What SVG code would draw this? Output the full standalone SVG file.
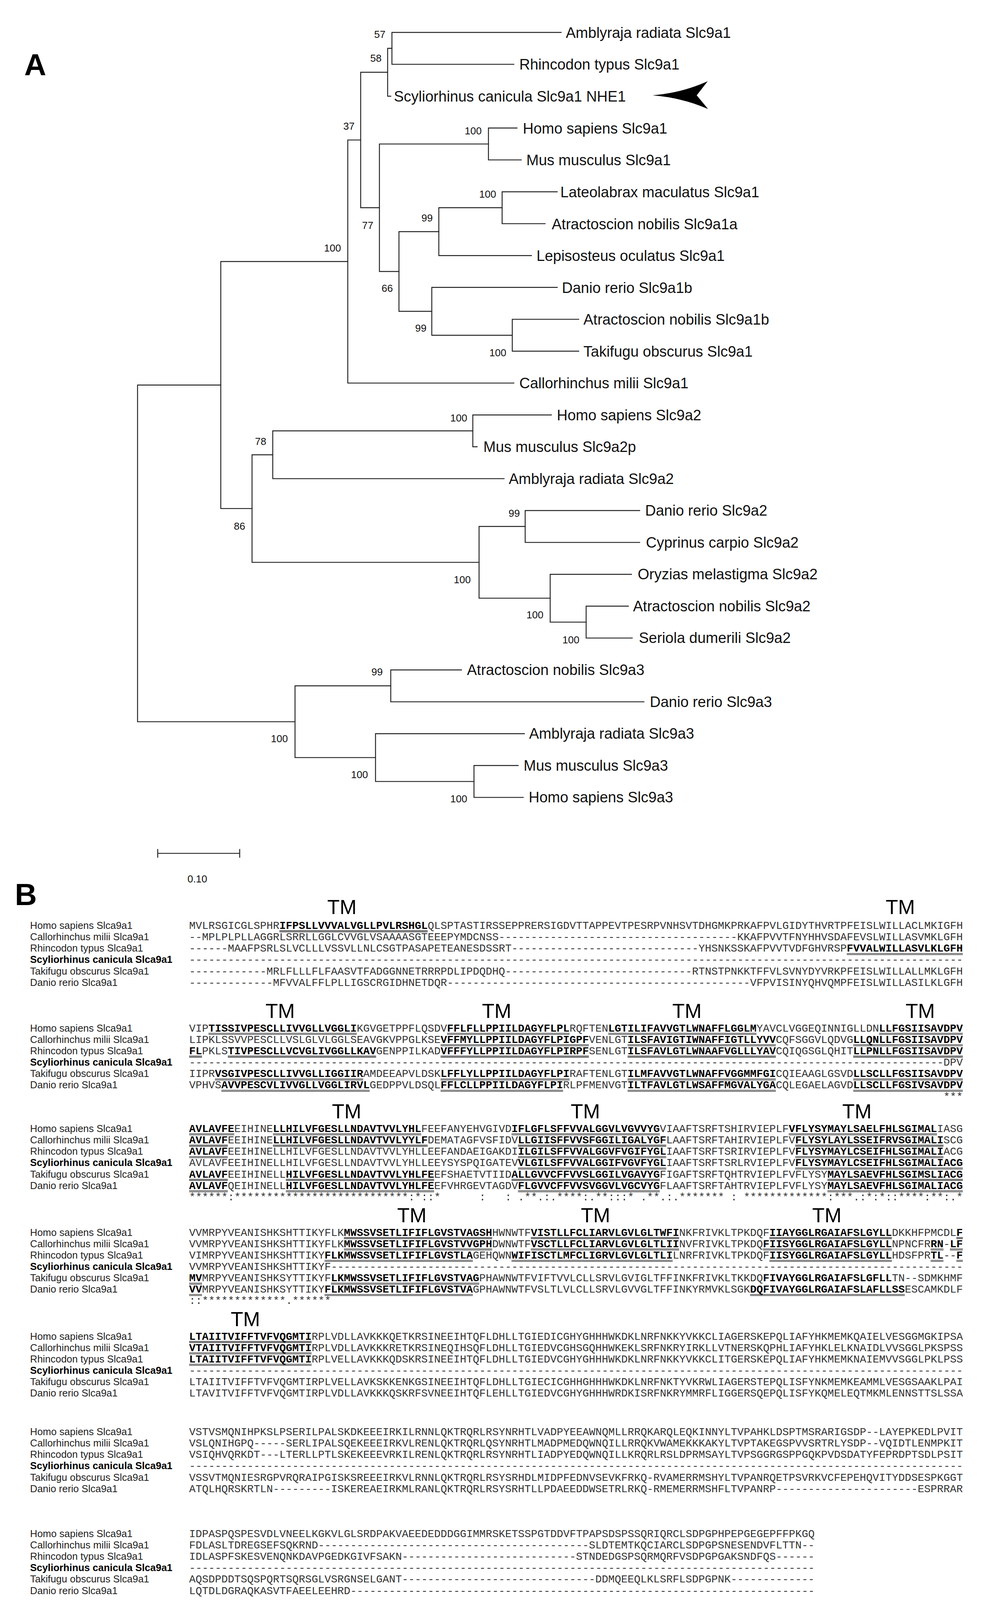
<svg xmlns="http://www.w3.org/2000/svg" width="2531" height="4302" viewBox="0 0 2531 4302">
<style>
.bg{fill:#fff}
.edge{stroke:#222;stroke-width:2.4;fill:none;stroke-linecap:square}
.lf{font-family:"Liberation Sans",Arial,sans-serif;font-size:38px;fill:#111}
.bs{font-family:"Liberation Sans",Arial,sans-serif;font-size:26px;fill:#111;text-anchor:middle}
.pl{font-family:"Liberation Sans",Arial,sans-serif;font-weight:bold;font-size:78px;fill:#000}
.nm{font-family:"Liberation Sans",Arial,sans-serif;font-size:25.5px;fill:#222}
.nmb{font-family:"Liberation Sans",Arial,sans-serif;font-size:25.5px;font-weight:bold;fill:#000}
.sq{font-family:"Liberation Mono","Courier New",monospace;font-size:27.5px;fill:#333}
.b{font-weight:bold;fill:#000}
.tm{font-family:"Liberation Sans",Arial,sans-serif;font-size:52px;fill:#000;text-anchor:middle}
.ul{stroke:#000;stroke-width:1.3;fill:none}
</style>
<rect class="bg" x="0" y="0" width="2531" height="4302"/>

<text class="pl" x="62" y="193">A</text>

<g id="connectors">
<path class="edge" d="M565,985.7 H352 V1847.6 H755"/>
<path class="edge" d="M890,669.5 H565 V1301.9 H645"/>
<path class="edge" d="M923,358.4 H890 V980.6 H1315"/>
<path class="edge" d="M992,185 H923 V531.8 H971"/>
<path class="edge" d="M1003,123.8 H992 V246.2 H1000"/>
<path class="edge" d="M1436,83 H1003 V164.6 H1315"/>
<path class="edge" d="M1250,368.6 H971 V695 H1021"/>
<path class="edge" d="M1323,327.8 H1250 V409.4 H1334"/>
<path class="edge" d="M1123,593 H1021 V797 H1105"/>
<path class="edge" d="M1285,531.8 H1123 V654.2 H1360"/>
<path class="edge" d="M1426,491 H1285 V572.6 H1395"/>
<path class="edge" d="M1426,735.8 H1105 V858.2 H1311"/>
<path class="edge" d="M1481,817.4 H1311 V899 H1481"/>
<path class="edge" d="M698,1164.2 H645 V1439.6 H1226"/>
<path class="edge" d="M1210,1103 H698 V1225.4 H1290"/>
<path class="edge" d="M1411,1062.2 H1210 V1143.8 H1221"/>
<path class="edge" d="M1344,1347.8 H1226 V1531.4 H1408"/>
<path class="edge" d="M1637,1307 H1344 V1388.6 H1637"/>
<path class="edge" d="M1616,1470.2 H1408 V1592.6 H1500"/>
<path class="edge" d="M1608,1551.8 H1500 V1633.4 H1618"/>
<path class="edge" d="M1000,1755.8 H755 V1939.4 H961"/>
<path class="edge" d="M1181,1715 H1000 V1796.6 H1648"/>
<path class="edge" d="M1342,1878.2 H961 V2000.6 H1213"/>
<path class="edge" d="M1326,1959.8 H1213 V2041.4 H1339"/>
</g>

<g id="leaves">
<g id="leaf-amblyraja-slc9a1"><text class="lf" x="1448" y="97">Amblyraja radiata Slc9a1</text></g>
<g id="leaf-rhincodon-slc9a1"><text class="lf" x="1329" y="178">Rhincodon typus Slc9a1</text></g>
<g id="leaf-scyliorhinus-slc9a1"><text class="lf" x="1008" y="259.5">Scyliorhinus canicula Slc9a1 NHE1</text>
<path d="M1670,244 Q1745,238 1811,208 L1783,244 L1812,279 Q1745,250 1670,244 Z" fill="#000"/></g>
<g id="leaf-homo-slc9a1"><text class="lf" x="1338" y="341.5">Homo sapiens Slc9a1</text></g>
<g id="leaf-mus-slc9a1"><text class="lf" x="1347" y="423">Mus musculus Slc9a1</text></g>
<g id="leaf-lateolabrax-slc9a1"><text class="lf" x="1434" y="505">Lateolabrax maculatus Slc9a1</text></g>
<g id="leaf-atractoscion-slc9a1a"><text class="lf" x="1412" y="586.5">Atractoscion nobilis Slc9a1a</text></g>
<g id="leaf-lepisosteus-slc9a1"><text class="lf" x="1373" y="668">Lepisosteus oculatus Slc9a1</text></g>
<g id="leaf-danio-slc9a1b"><text class="lf" x="1438" y="749.5">Danio rerio Slc9a1b</text></g>
<g id="leaf-atractoscion-slc9a1b"><text class="lf" x="1493" y="831">Atractoscion nobilis Slc9a1b</text></g>
<g id="leaf-takifugu-slc9a1"><text class="lf" x="1493" y="912.5">Takifugu obscurus Slc9a1</text></g>
<g id="leaf-callorhinchus-slc9a1"><text class="lf" x="1329" y="994">Callorhinchus milii Slc9a1</text></g>
<g id="leaf-homo-slc9a2"><text class="lf" x="1425" y="1075.5">Homo sapiens Slc9a2</text></g>
<g id="leaf-mus-slc9a2p"><text class="lf" x="1237" y="1157">Mus musculus Slc9a2p</text></g>
<g id="leaf-amblyraja-slc9a2"><text class="lf" x="1302" y="1238.5">Amblyraja radiata Slc9a2</text></g>
<g id="leaf-danio-slc9a2"><text class="lf" x="1651" y="1320">Danio rerio Slc9a2</text></g>
<g id="leaf-cyprinus-slc9a2"><text class="lf" x="1653" y="1401.6">Cyprinus carpio Slc9a2</text></g>
<g id="leaf-oryzias-slc9a2"><text class="lf" x="1632" y="1483.2">Oryzias melastigma Slc9a2</text></g>
<g id="leaf-atractoscion-slc9a2"><text class="lf" x="1620" y="1564.8">Atractoscion nobilis Slc9a2</text></g>
<g id="leaf-seriola-slc9a2"><text class="lf" x="1635" y="1646.4">Seriola dumerili Slc9a2</text></g>
<g id="leaf-atractoscion-slc9a3"><text class="lf" x="1195" y="1728">Atractoscion nobilis Slc9a3</text></g>
<g id="leaf-danio-slc9a3"><text class="lf" x="1663" y="1809.6">Danio rerio Slc9a3</text></g>
<g id="leaf-amblyraja-slc9a3"><text class="lf" x="1354" y="1891.2">Amblyraja radiata Slc9a3</text></g>
<g id="leaf-mus-slc9a3"><text class="lf" x="1340" y="1972.8">Mus musculus Slc9a3</text></g>
<g id="leaf-homo-slc9a3"><text class="lf" x="1353" y="2054.4">Homo sapiens Slc9a3</text></g>
</g>

<g id="bootstrap">
<g id="node-57"><text class="bs" x="972" y="97">57</text></g>
<g id="node-58"><text class="bs" x="962" y="158">58</text></g>
<g id="node-37"><text class="bs" x="893" y="332">37</text></g>
<g id="node-100-mam1"><text class="bs" x="1211" y="344">100</text></g>
<g id="node-100-lat"><text class="bs" x="1248" y="506">100</text></g>
<g id="node-99-f1"><text class="bs" x="1093" y="567">99</text></g>
<g id="node-77"><text class="bs" x="941" y="586">77</text></g>
<g id="node-100-slc9a1"><text class="bs" x="851" y="644">100</text></g>
<g id="node-66"><text class="bs" x="991" y="747">66</text></g>
<g id="node-99-f2"><text class="bs" x="1077" y="849">99</text></g>
<g id="node-100-taki"><text class="bs" x="1274" y="912">100</text></g>
<g id="node-100-mam2"><text class="bs" x="1174" y="1079">100</text></g>
<g id="node-78"><text class="bs" x="667" y="1139">78</text></g>
<g id="node-86"><text class="bs" x="613" y="1356">86</text></g>
<g id="node-99-dc"><text class="bs" x="1316" y="1323">99</text></g>
<g id="node-100-fish2"><text class="bs" x="1183" y="1493">100</text></g>
<g id="node-100-ory"><text class="bs" x="1369" y="1583">100</text></g>
<g id="node-100-ser"><text class="bs" x="1461" y="1647">100</text></g>
<g id="node-99-ad3"><text class="bs" x="965" y="1729">99</text></g>
<g id="node-100-slc9a3"><text class="bs" x="715" y="1900">100</text></g>
<g id="node-100-amh3"><text class="bs" x="920" y="1992">100</text></g>
<g id="node-100-mh3"><text class="bs" x="1174" y="2054">100</text></g>
</g>

<g id="scale-bar">
<path class="edge" d="M403.6,2184.6 H613.4 M403.6,2174.6 V2194.5 M613.4,2174.6 V2194.5"/>
<text class="bs" x="505" y="2259">0.10</text>
</g>

<text class="pl" x="38" y="2317">B</text>

<g id="tm-labels">
<text class="tm" x="875" y="2340">TM</text>
<text class="tm" x="2304" y="2340">TM</text>
<text class="tm" x="717" y="2605.7">TM</text>
<text class="tm" x="1271" y="2605.7">TM</text>
<text class="tm" x="1758" y="2605.7">TM</text>
<text class="tm" x="2355" y="2605.7">TM</text>
<text class="tm" x="887" y="2862.9">TM</text>
<text class="tm" x="1498" y="2862.9">TM</text>
<text class="tm" x="2193" y="2862.9">TM</text>
<text class="tm" x="1054" y="3128.5">TM</text>
<text class="tm" x="1524" y="3128.5">TM</text>
<text class="tm" x="2116" y="3128.5">TM</text>
<text class="tm" x="628" y="3394.5">TM</text>
</g>

<g id="block1">
<g id="b1-names">
<text class="nm" x="77" y="2378">Homo sapiens Slca9a1</text>
<text class="nm" x="77" y="2407.1">Callorhinchus milii Slca9a1</text>
<text class="nm" x="77" y="2436.3">Rhincodon typus Slca9a1</text>
<text class="nmb" x="77" y="2465.4">Scyliorhinus canicula Slca9a1</text>
<text class="nm" x="77" y="2494.6">Takifugu obscurus Slca9a1</text>
<text class="nm" x="77" y="2523.7">Danio rerio Slca9a1</text>
</g>
<g id="b1-seq">
<text class="sq" y="2378"><tspan x="484">MVLRSGICGLSPHR</tspan><tspan x="715" class="b">IFPSLLVVVALVGLLPVLRSHGL</tspan><tspan x="1094.5">QLSPTASTIRSSEPPRERSIGDVTTAPPEVTPESRPVNHSVTDHGMKPRKAFPVLGIDYTHVRTPFEISLWILLACLMKIGFH</tspan></text>
<text class="sq" y="2407.1"><tspan x="484">--MPLPLPLLAGGRLSRRLLGGLCVVGLVSAAAASGTEEEPYMDCNSS</tspan><tspan x="1276">-------------------------------------</tspan><tspan x="1886.5">KKAFPVVTFNYHHVSDAFEVSLWILLASVMKLGFH</tspan></text>
<text class="sq" y="2436.3"><tspan x="484">------MAAFPSRLSLVCLLLVSSVLLNLCSGTPASAPETEANESDSSRT</tspan><tspan x="1309">-----------------------------</tspan><tspan x="1787.5">YHSNKSSKAFPVVTVDFGHVRSP</tspan><tspan x="2167" class="b">FVVALWILLASVLKLGFH</tspan></text>
<text class="sq" y="2465.4"><tspan x="484">------------------------------------------------------------------------------------------------------------------------</tspan></text>
<text class="sq" y="2494.6"><tspan x="484">------------</tspan><tspan x="682">MRLFLLLFLFAASVTFADGGNNETRRRPDLIPDQDHQ</tspan><tspan x="1292.5">-----------------------------</tspan><tspan x="1771">RTNSTPNKKTFFVLSVNYDYVRKPFEISLWILLALLMKLGFH</tspan></text>
<text class="sq" y="2523.7"><tspan x="484">-------------</tspan><tspan x="698.5">MFVVALFFLPLLIGSCRGIDHNETDQR</tspan><tspan x="1144">-----------------------------------------------</tspan><tspan x="1919.5">VFPVISINYQHVQMPFEISLWILLASILKLGFH</tspan></text>
</g>
<path class="ul" d="M715,2382.5H1094.5M715,2385.5H1094.5 M2167,2440.8H2464M2167,2443.8H2464"/>
</g>

<g id="block2">
<g id="b2-names">
<text class="nm" x="77" y="2640.7">Homo sapiens Slca9a1</text>
<text class="nm" x="77" y="2669.8">Callorhinchus milii Slca9a1</text>
<text class="nm" x="77" y="2699">Rhincodon typus Slca9a1</text>
<text class="nmb" x="77" y="2728.1">Scyliorhinus canicula Slca9a1</text>
<text class="nm" x="77" y="2757.3">Takifugu obscurus Slca9a1</text>
<text class="nm" x="77" y="2786.4">Danio rerio Slca9a1</text>
</g>
<g id="b2-seq">
<text class="sq" y="2640.7"><tspan x="484">VIP</tspan><tspan x="533.5" class="b">TISSIVPESCLLIVVGLLVGGLI</tspan><tspan x="913">KGVGETPPFLQSDV</tspan><tspan x="1144" class="b">FFLFLLPPIILDAGYFLPL</tspan><tspan x="1457.5">RQFTEN</tspan><tspan x="1556.5" class="b">LGTILIFAVVGTLWNAFFLGGLM</tspan><tspan x="1936">YAVCLVGGEQINNIGLLDN</tspan><tspan x="2249.5" class="b">LLFGSIISAVDPV</tspan></text>
<text class="sq" y="2669.8"><tspan x="484">LIPKLSSVVPESCLLVSLGLVLGGLSEAVGKVPPGLKSE</tspan><tspan x="1127.5" class="b">VFFMYLLPPIILDAGYFLPIGPF</tspan><tspan x="1507">VENLGT</tspan><tspan x="1606" class="b">ILSFAVIGTIWNAFFIGTLLYVV</tspan><tspan x="1985.5">CQFSGGVLQDVG</tspan><tspan x="2183.5" class="b">LLQNLLFGSIISAVDPV</tspan></text>
<text class="sq" y="2699"><tspan x="484" class="b">FL</tspan><tspan x="517">PKLS</tspan><tspan x="583" class="b">TIVPESCLLVCVGLIVGGLLKAV</tspan><tspan x="962.5">GENPPILKAD</tspan><tspan x="1127.5" class="b">VFFFYLLPPIILDAGYFLPIRPF</tspan><tspan x="1507">SENLGT</tspan><tspan x="1606" class="b">ILSFAVLGTLWNAAFVGLLLYAV</tspan><tspan x="1985.5">CQIQGSGLQHIT</tspan><tspan x="2183.5" class="b">LLPNLLFGSIISAVDPV</tspan></text>
<text class="sq" y="2728.1"><tspan x="484">---------------------------------------------------------------------------------------------------------------------</tspan><tspan x="2414.5">DPV</tspan></text>
<text class="sq" y="2757.3"><tspan x="484">IIPR</tspan><tspan x="550" class="b">VSGIVPESCLLIVVGLLIGGIIR</tspan><tspan x="929.5">AMDEEAPVLDSK</tspan><tspan x="1127.5" class="b">LFFLYLLPPIILDAGYFLPI</tspan><tspan x="1457.5">RAFTENLGT</tspan><tspan x="1606" class="b">ILMFAVVGTLWNAFFVGGMMFGI</tspan><tspan x="1985.5">CQIEAAGLGSVD</tspan><tspan x="2183.5" class="b">LLSCLLFGSIISAVDPV</tspan></text>
<text class="sq" y="2786.4"><tspan x="484">VPHVS</tspan><tspan x="566.5" class="b">AVVPESCVLIVVGLLVGGLIRVL</tspan><tspan x="946">GEDPPVLDSQL</tspan><tspan x="1127.5" class="b">FFLCLLPPIILDAGYFLPI</tspan><tspan x="1441">RLPFMENVGT</tspan><tspan x="1606" class="b">ILTFAVLGTLWSAFFMGVALYGA</tspan><tspan x="1985.5">CQLEGAELAGVD</tspan><tspan x="2183.5" class="b">LLSCLLFGSIVSAVDPV</tspan></text>
<text class="sq" y="2815.6"><tspan x="2414.5">***</tspan></text>
</g>
<path class="ul" d="M533.5,2645.2H913M533.5,2648.2H913 M1144,2645.2H1457.5M1144,2648.2H1457.5 M1556.5,2645.2H1936M1556.5,2648.2H1936 M2249.5,2645.2H2464M2249.5,2648.2H2464
M1127.5,2674.3H1507M1127.5,2677.3H1507 M1606,2674.3H1985.5M1606,2677.3H1985.5 M2183.5,2674.3H2464M2183.5,2677.3H2464
M484,2703.5H517M484,2706.5H517 M583,2703.5H962.5M583,2706.5H962.5 M1127.5,2703.5H1507M1127.5,2706.5H1507 M1606,2703.5H1985.5M1606,2706.5H1985.5 M2183.5,2703.5H2464M2183.5,2706.5H2464
M550,2761.8H929.5M550,2764.8H929.5 M1127.5,2761.8H1457.5M1127.5,2764.8H1457.5 M1606,2761.8H1985.5M1606,2764.8H1985.5 M2183.5,2761.8H2464M2183.5,2764.8H2464
M566.5,2790.9H946M566.5,2793.9H946 M1127.5,2790.9H1441M1127.5,2793.9H1441 M1606,2790.9H1985.5M1606,2793.9H1985.5 M2183.5,2790.9H2464M2183.5,2793.9H2464"/>
</g>

<g id="block3">
<g id="b3-names">
<text class="nm" x="77" y="2897.9">Homo sapiens Slca9a1</text>
<text class="nm" x="77" y="2927">Callorhinchus milii Slca9a1</text>
<text class="nm" x="77" y="2956.2">Rhincodon typus Slca9a1</text>
<text class="nmb" x="77" y="2985.3">Scyliorhinus canicula Slca9a1</text>
<text class="nm" x="77" y="3014.5">Takifugu obscurus Slca9a1</text>
<text class="nm" x="77" y="3043.6">Danio rerio Slca9a1</text>
</g>
<g id="b3-seq">
<text class="sq" y="2897.9"><tspan x="484" class="b">AVLAVFE</tspan><tspan x="599.5">EIHINE</tspan><tspan x="698.5" class="b">LLHILVFGESLLNDAVTVVLYHL</tspan><tspan x="1078">FEEFANYEHVGIVD</tspan><tspan x="1309" class="b">IFLGFLSFFVVALGGVLVGVVYG</tspan><tspan x="1688.5">VIAAFTSRFTSHIRVIEPLF</tspan><tspan x="2018.5" class="b">VFLYSYMAYLSAELFHLSGIMAL</tspan><tspan x="2398">IASG</tspan></text>
<text class="sq" y="2927"><tspan x="484" class="b">AVLAVF</tspan><tspan x="583">EEIHINE</tspan><tspan x="698.5" class="b">LLHILVFGESLLNDAVTVVLYYLF</tspan><tspan x="1094.5">DEMATAGFVSFIDV</tspan><tspan x="1325.5" class="b">LLGIISFFVVSFGGILIGALYGF</tspan><tspan x="1705">LAAFTSRFTAHIRVIEPLFV</tspan><tspan x="2035" class="b">FLYSYLAYLSSEIFRVSGIMALI</tspan><tspan x="2414.5">SCG</tspan></text>
<text class="sq" y="2956.2"><tspan x="484" class="b">AVLAVF</tspan><tspan x="583">EEIHINELLHILVFGESLLNDAVTVVLYHLLEEFANDAEIGAKDI</tspan><tspan x="1325.5" class="b">ILGILSFFVVALGGVFVGIFYGL</tspan><tspan x="1705">IAAFTSRFTSRIRVIEPLFV</tspan><tspan x="2035" class="b">FLYSYMAYLCSEIFHLSGIMALI</tspan><tspan x="2414.5">ACG</tspan></text>
<text class="sq" y="2985.3"><tspan x="484">AVLAVFEEIHINELLHILVFGESLLNDAVTVVLYHLLEEYSYSPQIGATEV</tspan><tspan x="1325.5" class="b">VLGILSFFVVALGGIFVGVFYGL</tspan><tspan x="1705">IAAFTSRFTSRLRVIEPLFV</tspan><tspan x="2035" class="b">FLYSYMAYLCSEIFHLSGIMALIACG</tspan></text>
<text class="sq" y="3014.5"><tspan x="484" class="b">AVLAVF</tspan><tspan x="583">EEIHINELL</tspan><tspan x="731.5" class="b">HILVFGESLLNDAVTVVLYHLFE</tspan><tspan x="1111">EFSHAETVTIID</tspan><tspan x="1309" class="b">ALLGVVCFFVVSLGGILVGAVYG</tspan><tspan x="1688.5">FIGAFTSRFTQHTRVIEPLFVFLYSY</tspan><tspan x="2117.5" class="b">MAYLSAEVFHLSGIMSLIACG</tspan></text>
<text class="sq" y="3043.6"><tspan x="484" class="b">AVLAVF</tspan><tspan x="583">QEIHINELL</tspan><tspan x="731.5" class="b">HILVFGESLLNDAVTVVLYHLFE</tspan><tspan x="1111">EFVHRGEVTAGDV</tspan><tspan x="1325.5" class="b">FLGVVCFFVVSVGGVLVGCVYG</tspan><tspan x="1688.5">FLAAFTSRFTAHTRVIEPLFVFLYSY</tspan><tspan x="2117.5" class="b">MAYLSAEVFHLSGIMALIACG</tspan></text>
<text class="sq" y="3072.7"><tspan x="484">******:***************************:*::*</tspan><tspan x="1226.5">:</tspan><tspan x="1292.5">:</tspan><tspan x="1325.5">.**.:.****:.**:::*</tspan><tspan x="1639">.**.:.*******</tspan><tspan x="1870">:</tspan><tspan x="1903">*************:***.:*:*::****:**:.*</tspan></text>
</g>
<path class="ul" d="M484,2902.4H599.5M484,2905.4H599.5 M698.5,2902.4H1078M698.5,2905.4H1078 M1309,2902.4H1688.5M1309,2905.4H1688.5 M2018.5,2902.4H2398M2018.5,2905.4H2398
M484,2931.5H583M484,2934.5H583 M698.5,2931.5H1094.5M698.5,2934.5H1094.5 M1325.5,2931.5H1705M1325.5,2934.5H1705 M2035,2931.5H2414.5M2035,2934.5H2414.5
M484,2960.7H583M484,2963.7H583 M1325.5,2960.7H1705M1325.5,2963.7H1705 M2035,2960.7H2414.5M2035,2963.7H2414.5
M1325.5,2989.8H1705M1325.5,2992.8H1705 M2035,2989.8H2464M2035,2992.8H2464
M484,3019H583M484,3022H583 M731.5,3019H1111M731.5,3022H1111 M1309,3019H1688.5M1309,3022H1688.5 M2117.5,3019H2464M2117.5,3022H2464
M484,3048.1H583M484,3051.1H583 M731.5,3048.1H1111M731.5,3051.1H1111 M1325.5,3048.1H1688.5M1325.5,3051.1H1688.5 M2117.5,3048.1H2464M2117.5,3051.1H2464"/>
</g>

<g id="block4">
<g id="b4-names">
<text class="nm" x="77" y="3163.5">Homo sapiens Slca9a1</text>
<text class="nm" x="77" y="3192.6">Callorhinchus milii Slca9a1</text>
<text class="nm" x="77" y="3221.8">Rhincodon typus Slca9a1</text>
<text class="nmb" x="77" y="3250.9">Scyliorhinus canicula Slca9a1</text>
<text class="nm" x="77" y="3280.1">Takifugu obscurus Slca9a1</text>
<text class="nm" x="77" y="3309.2">Danio rerio Slca9a1</text>
</g>
<g id="b4-seq">
<text class="sq" y="3163.5"><tspan x="484">VVMRPYVEANISHKSHTTIKYFLK</tspan><tspan x="880" class="b">MWSSVSETLIFIFLGVSTVAGSH</tspan><tspan x="1259.5">HWNWTF</tspan><tspan x="1358.5" class="b">VISTLLFCLIARVLGVLGLTWFI</tspan><tspan x="1738">NKFRIVKLTPKDQF</tspan><tspan x="1969" class="b">IIAYGGLRGAIAFSLGYLL</tspan><tspan x="2282.5">DKKHFPMCDL</tspan><tspan x="2447.5" class="b">F</tspan></text>
<text class="sq" y="3192.6"><tspan x="484">VVMRPYVEANISHKSHTTIKYFLK</tspan><tspan x="880" class="b">MWSSVSETLIFIFLGVSTVVGPH</tspan><tspan x="1259.5">DWNWTF</tspan><tspan x="1358.5" class="b">VSCTLLFCLIARVLGVLGLTLII</tspan><tspan x="1738">NVFRIVKLTPKDQ</tspan><tspan x="1952.5" class="b">FIISYGGLRGAIAFSLGYLL</tspan><tspan x="2282.5">NPNCFR</tspan><tspan x="2381.5" class="b">RN</tspan><tspan x="2414.5">-</tspan><tspan x="2431" class="b">LF</tspan></text>
<text class="sq" y="3221.8"><tspan x="484">VIMRPYVEANISHKSHTTIKY</tspan><tspan x="830.5" class="b">FLKMWSSVSETLIFIFLGVSTLA</tspan><tspan x="1210">GEHQWN</tspan><tspan x="1309" class="b">WIFISCTLMFCLIGRVLGVLGLTLI</tspan><tspan x="1721.5">LNRFRIVKLTPKDQF</tspan><tspan x="1969" class="b">IISYGGLRGAIAFSLGYLL</tspan><tspan x="2282.5">HDSFPR</tspan><tspan x="2381.5" class="b">TL</tspan><tspan x="2414.5">--</tspan><tspan x="2447.5" class="b">F</tspan></text>
<text class="sq" y="3250.9"><tspan x="484">VVMRPYVEANISHKSHTTIKYF</tspan><tspan x="847">--------------------------------------------------------------------------------------------------</tspan></text>
<text class="sq" y="3280.1"><tspan x="484" class="b">MV</tspan><tspan x="517">MRPYVEANISHKSYTTIKYF</tspan><tspan x="847" class="b">LKMWSSVSETLIFIFLGVSTVAG</tspan><tspan x="1226.5">PHAWNWTFVIFTVVLCLLSRVLGVIGLTFFINKFRIVKLTKKDQ</tspan><tspan x="1952.5" class="b">FIVAYGGLRGAIAFSLGFLL</tspan><tspan x="2282.5">TN--SDMKHMF</tspan></text>
<text class="sq" y="3309.2"><tspan x="484" class="b">VV</tspan><tspan x="517">MRPYVEANISHKSYTTIKY</tspan><tspan x="830.5" class="b">FLKMWSSVSETLIFIFLGVSTVA</tspan><tspan x="1210">GPHAWNWTFVSLTLVLCLLSRVLGVVGLTFFINKYRMVKLSGK</tspan><tspan x="1919.5" class="b">DQFIVAYGGLRGAIAFSLAFLLSS</tspan><tspan x="2315.5">ESCAMKDLF</tspan></text>
<text class="sq" y="3338.3"><tspan x="484">::*************.******</tspan></text>
</g>
<path class="ul" d="M880,3168H1259.5M880,3171H1259.5 M1358.5,3168H1738M1358.5,3171H1738 M1969,3168H2282.5M1969,3171H2282.5 M2447.5,3168H2464M2447.5,3171H2464
M880,3197.1H1259.5M880,3200.1H1259.5 M1358.5,3197.1H1738M1358.5,3200.1H1738 M1952.5,3197.1H2282.5M1952.5,3200.1H2282.5 M2381.5,3197.1H2414.5M2381.5,3200.1H2414.5 M2431,3197.1H2464M2431,3200.1H2464
M830.5,3226.3H1210M830.5,3229.3H1210 M1309,3226.3H1721.5M1309,3229.3H1721.5 M1969,3226.3H2282.5M1969,3229.3H2282.5 M2381.5,3226.3H2414.5M2381.5,3229.3H2414.5 M2447.5,3226.3H2464M2447.5,3229.3H2464
M484,3284.6H517M484,3287.6H517 M847,3284.6H1226.5M847,3287.6H1226.5
M484,3313.7H517M484,3316.7H517 M830.5,3313.7H1210M830.5,3316.7H1210 M1919.5,3313.7H2315.5M1919.5,3316.7H2315.5"/>
</g>

<g id="block5">
<g id="b5-names">
<text class="nm" x="77" y="3429.5">Homo sapiens Slca9a1</text>
<text class="nm" x="77" y="3458.6">Callorhinchus milii Slca9a1</text>
<text class="nm" x="77" y="3487.8">Rhincodon typus Slca9a1</text>
<text class="nmb" x="77" y="3516.9">Scyliorhinus canicula Slca9a1</text>
<text class="nm" x="77" y="3546.1">Takifugu obscurus Slca9a1</text>
<text class="nm" x="77" y="3575.2">Danio rerio Slca9a1</text>
</g>
<g id="b5-seq">
<text class="sq" y="3429.5"><tspan x="484" class="b">LTAIITVIFFTVFVQGMTI</tspan><tspan x="797.5">RPLVDLLAVKKKQETKRSINEEIHTQFLDHLLTGIEDICGHYGHHHWKDKLNRFNKKYVKKCLIAGERSKEPQLIAFYHKMEMKQAIELVESGGMGKIPSA</tspan></text>
<text class="sq" y="3458.6"><tspan x="484" class="b">VTAIITVIFFTVFVQGMTI</tspan><tspan x="797.5">RPLVDLLAVKKKRETKRSINEQIHSQFLDHLLTGIEDVCGHSGQHHWKEKLSRFNKRYIRKLLVTNERSKQPHLIAFYHKLELKNAIDLVVSGGLPKSPSS</tspan></text>
<text class="sq" y="3487.8"><tspan x="484" class="b">LTAIITVIFFTVFVQGMTI</tspan><tspan x="797.5">RPLVELLAVKKKQDSKRSINEEIHTQFLDHLLTGIEDVCGHYGHHHWKDKLNRFNKKYVKKCLITGERSKEPQLIAFYHKMEMKNAIEMVVSGGLPKLPSS</tspan></text>
<text class="sq" y="3516.9"><tspan x="484">------------------------------------------------------------------------------------------------------------------------</tspan></text>
<text class="sq" y="3546.1"><tspan x="484">LTAIITVIFFTVFVQGMTIRPLVELLAVKSKKENKGSINEEIHTQFLDHLLTGIECICGHHGHHHWKDKLNRFNKTYVKRWLIAGERSTEPQLISFYNKMEMKEAMMLVESGSAAKLPAI</tspan></text>
<text class="sq" y="3575.2"><tspan x="484">LTAVITVIFFTVFVQGMTIRPLVDLLAVKKKQSKRFSVNEEIHTQFLEHLLTGIEDVCGHYGHHHWRDKISRFNKRYMMRFLIGGERSQEPQLISFYKQMELEQTMKMLENNSTTSLSSA</tspan></text>
</g>
<path class="ul" d="M484,3434H797.5M484,3437H797.5 M484,3463.1H797.5M484,3466.1H797.5 M484,3492.3H797.5M484,3495.3H797.5"/>
</g>

<g id="block6">
<g id="b6-names">
<text class="nm" x="77" y="3673.9">Homo sapiens Slca9a1</text>
<text class="nm" x="77" y="3703">Callorhinchus milii Slca9a1</text>
<text class="nm" x="77" y="3732.2">Rhincodon typus Slca9a1</text>
<text class="nmb" x="77" y="3761.3">Scyliorhinus canicula Slca9a1</text>
<text class="nm" x="77" y="3790.5">Takifugu obscurus Slca9a1</text>
<text class="nm" x="77" y="3819.6">Danio rerio Slca9a1</text>
</g>
<g id="b6-seq">
<text class="sq" y="3673.9"><tspan x="484">VSTVSMQNIHPKSLPSERILPALSKDKEEEIRKILRNNLQKTRQRLRSYNRHTLVADPYEEAWNQMLLRRQKARQLEQKINNYLTVPAHKLDSPTMSRARIGSDP</tspan><tspan x="2216.5">--</tspan><tspan x="2249.5">LAYEPKEDLPVIT</tspan></text>
<text class="sq" y="3703"><tspan x="484">VSLQNIHGPQ</tspan><tspan x="649">-----</tspan><tspan x="731.5">SERLIPALSQEKEEEIRKVLRENLQKTRQRLQSYNRHTLMADPMEDQWNQILLRRQKVWAMEKKKAKYLTVPTAKEGSPVVSRTRLYSDP</tspan><tspan x="2216.5">--</tspan><tspan x="2249.5">VQIDTLENMPKIT</tspan></text>
<text class="sq" y="3732.2"><tspan x="484">VSIQHVQRKDT</tspan><tspan x="665.5">---</tspan><tspan x="715">LTERLLPTLSKEKEEEVRKILRENLQKTRQRLRSYNRHTLIADPYEDQWNQILLKRQRLRSLDPRMSAYLTVPSGGRGSPPGQKPVDSDATYFEPRDPTSDLPSIT</tspan></text>
<text class="sq" y="3761.3"><tspan x="484">------------------------------------------------------------------------------------------------------------------------</tspan></text>
<text class="sq" y="3790.5"><tspan x="484">VSSVTMQNIESRGPVRQRAIPGISKSREEEIRKVLRNNLQKTRQRLRSYSRHDLMIDPFEDNVSEVKFRKQ</tspan><tspan x="1655.5">-</tspan><tspan x="1672">RVAMERRMSHYLTVPANRQETPSVRKVCFEPEHQVITYDDSESPKGGT</tspan></text>
<text class="sq" y="3819.6"><tspan x="484">ATQLHQRSKRTLN</tspan><tspan x="698.5">---------</tspan><tspan x="847">ISKEREAEIRKMLRANLQKTRQRLRSYSRHTLLPDAEEDDWSETRLRKQ</tspan><tspan x="1655.5">-</tspan><tspan x="1672">RMEMERRMSHFLTVPANRP</tspan><tspan x="1985.5">----------------------</tspan><tspan x="2348.5">ESPRRAR</tspan></text>
</g>
</g>

<g id="block7">
<g id="b7-names">
<text class="nm" x="77" y="3934.8">Homo sapiens Slca9a1</text>
<text class="nm" x="77" y="3963.9">Callorhinchus milii Slca9a1</text>
<text class="nm" x="77" y="3993.1">Rhincodon typus Slca9a1</text>
<text class="nmb" x="77" y="4022.2">Scyliorhinus canicula Slca9a1</text>
<text class="nm" x="77" y="4051.4">Takifugu obscurus Slca9a1</text>
<text class="nm" x="77" y="4080.5">Danio rerio Slca9a1</text>
</g>
<g id="b7-seq">
<text class="sq" y="3934.8"><tspan x="484">IDPASPQSPESVDLVNEELKGKVLGLSRDPAKVAEEDEDDDGGIMMRSKETSSPGTDDVFTPAPSDSPSSQRIQRCLSDPGPHPEPGEGEPFFPKGQ</tspan></text>
<text class="sq" y="3963.9"><tspan x="484">FDLASLTDREGSEFSQKRND</tspan><tspan x="814">------------------------------------------</tspan><tspan x="1507">SLDTEMTKQCIARCLSDPGPSNESENDVFLTTN--</tspan></text>
<text class="sq" y="3993.1"><tspan x="484">IDLASPFSKESVENQNKDAVPGEDKGIVFSAKN</tspan><tspan x="1028.5">---------------------------</tspan><tspan x="1474">STNDEDGSPSQRMQRFVSDPGPGAKSNDFQS------</tspan></text>
<text class="sq" y="4022.2"><tspan x="484">-------------------------------------------------------------------------------------------------</tspan></text>
<text class="sq" y="4051.4"><tspan x="484">AQSDPDDTSQSPQRTSQRSGLVSRGNSELGANT</tspan><tspan x="1028.5">------------------------------</tspan><tspan x="1523.5">DDMQEEQLKLSRFLSDPGPNK-------------</tspan></text>
<text class="sq" y="4080.5"><tspan x="484">LQTDLDGRAQKASVTFAEELEEHRD</tspan><tspan x="896.5">------------------------------------------------------------------------</tspan></text>
</g>
</g>
</svg>
